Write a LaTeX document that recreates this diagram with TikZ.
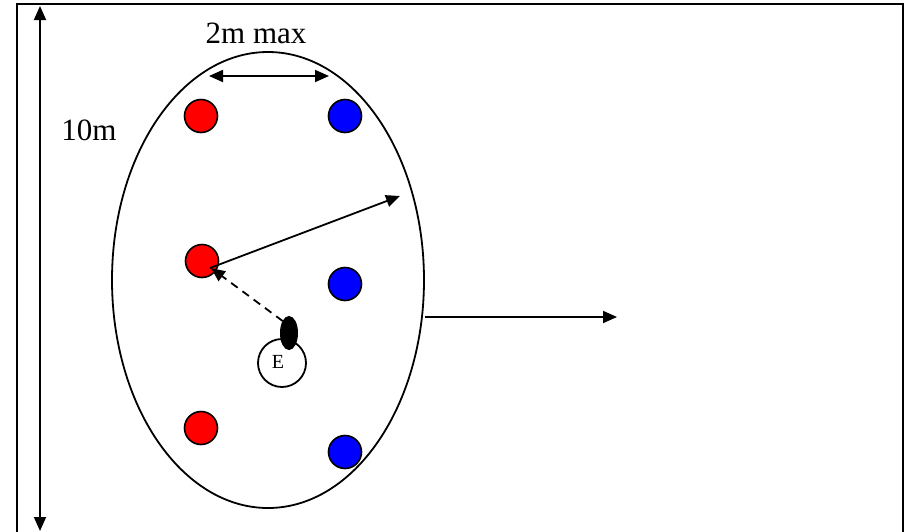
\documentclass[tikz,border=0pt]{standalone}
\usepackage{fontspec}
\setmainfont{Liberation Serif}
\usetikzlibrary{arrows.meta,shapes.geometric}
\begin{document}
\begin{tikzpicture}[x=1pt,y=-1pt,
  ln/.style={line width=1.8pt},
  tip/.style={-{Triangle[length=14pt,width=12pt]}},
  dot/.style={circle,draw,line width=1.6pt,minimum size=33pt,inner sep=0pt},
  lbl/.style={font=\fontsize{31}{33}\selectfont,inner sep=0pt}]
\useasboundingbox (0,0) rectangle (906,531);
% frame (open at bottom)
\draw[ln] (17,540) -- (17,4) -- (903,4) -- (903,540);
% 10m arrow
\coordinate (vt) at (40,6);
\coordinate (vb) at (40,531);
\draw[ln,tip] (40,268) -- (vt);
\draw[ln,tip] (40,268) -- (vb);
\node[lbl] (ten) at (89,130) {10m};
% ellipse
\node[ellipse,draw,ln,minimum width=312pt,minimum height=456pt,inner sep=0pt] (zone) at (268,280) {};
% 2m max
\node[lbl] (two) at (256,33) {2m max};
\coordinate (ha) at (209,76);
\coordinate (hb) at (329,76);
\draw[ln,{Triangle[length=14pt,width=12pt]}-{Triangle[length=14pt,width=12pt]}] (ha) -- (hb);
% players
\node[dot,fill=red] (r1) at (201,116) {};
\node[dot,fill=blue] (b1) at (345,116) {};
\node[dot,fill=red] (r2) at (202,261) {};
\node[dot,fill=blue] (b2) at (345,284) {};
\node[dot,fill=red] (r3) at (201,428) {};
\node[dot,fill=blue] (b3) at (345,452) {};
% E
\node[circle,draw,ln,minimum size=48pt,inner sep=0pt] (E) at (282,363) {};
\node[font=\fontsize{20}{22}\selectfont,inner sep=0pt] (Elbl) at (278,362) {E};
\node[ellipse,fill=black,draw,line width=1pt,minimum width=17pt,minimum height=33pt,inner sep=0pt] (ball) at (289,333) {};
% arrows
\coordinate (rs) at (210,268);
\coordinate (rt) at (400,196);
\draw[ln,tip] (rs) -- (rt);
\coordinate (dt) at (211,268);
\draw[ln,dash pattern=on 8pt off 6pt,tip] (ball.north west) -- (dt);
\coordinate (far) at (617,317);
\draw[ln,tip] (zone.east |- far) ++(0,0) -- (far);
\end{tikzpicture}
\end{document}
